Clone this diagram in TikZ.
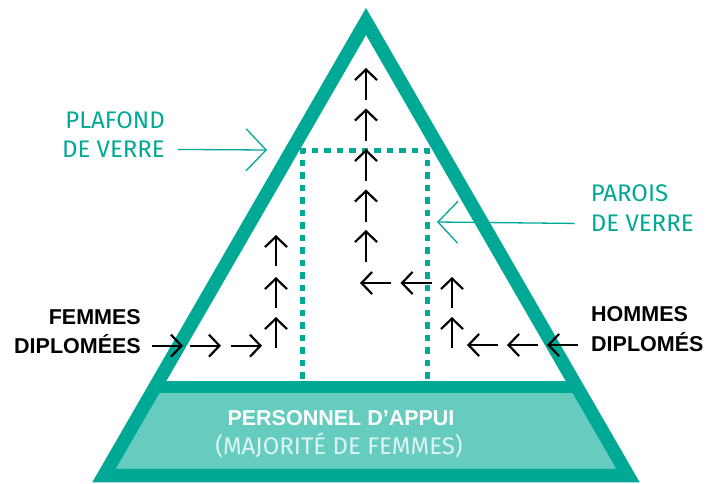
\documentclass[tikz,border=0pt]{standalone}
\usepackage{fontspec}
\setmainfont{Liberation Sans}
\newfontfamily\lightfont{Fira Sans}
\usetikzlibrary{positioning,arrows.meta}
\definecolor{verre}{RGB}{0,168,150}
\definecolor{appui}{RGB}{102,204,192}
\definecolor{pale}{RGB}{222,244,241}
\tikzset{
	pas/.style={line width=2.2pt, -{Straight Barb[length=10.5pt,width=22pt]}},
	renvoi/.style={verre, line width=1.3pt, -{Straight Barb[length=20pt,width=42pt]}},
	gras/.style={font=\fontsize{21.5}{25}\selectfont\bfseries, inner sep=0pt},
	fin/.style={font=\fontsize{24}{28}\lightfont, inner sep=0pt}
}

\begin{document}
\begin{tikzpicture}[x=1pt,y=-1pt]
	\useasboundingbox (0,0) rectangle (710,483);

	% pyramide
	\coordinate (g) at (104,475.5);
	\coordinate (d) at (628,475.5);
	\coordinate (s) at (366,21.5);
	\coordinate (bg) at (155,387);
	\coordinate (bd) at (577,387);
	\fill[appui] (g) -- (d) -- (bd) -- (bg) -- cycle;
	\draw[verre, line width=13.5pt, line join=miter] (g) -- (d) -- (s) -- cycle;
	\draw[verre, line width=12pt] (bg) -- (bd);

	% parois et plafond
	\draw[verre, line width=5pt, dash pattern=on 6.5pt off 6pt, dash phase=10.45pt]
		(302.7,381) -- (302.7,150.7) -- (427.7,150.7) -- (427.7,381);

	% parcours des femmes
	\foreach \x in {152,190,231} \draw[pas] (\x,345.7) -- ++(31,0);
	\foreach \y in {348,308,266} \draw[pas] (276,\y) -- ++(0,-31);

	% parcours des hommes
	\foreach \x in {578,538,498} \draw[pas] (\x,345) -- ++(-31,0);
	\foreach \y in {348,308} \draw[pas] (452,\y) -- ++(0,-31);
	\foreach \x in {431.5,391} \draw[pas] (\x,283) -- ++(-31,0);
	\foreach \y in {262,221.5,181,140.5,100} \draw[pas] (366,\y) -- ++(0,-32);

	% textes
	\node[gras, anchor=base east] (fem1) at (141,324.5) {FEMMES};
	\node[gras, anchor=base east] (fem2) at (141,353.3) {DIPLOMÉES};
	\node[gras, anchor=base west] (hom1) at (591,321.5) {HOMMES};
	\node[gras, anchor=base west] (hom2) at (591,351) {DIPLOMÉS};

	\node[fin, verre, anchor=base east] (plaf1) at (165,128) {PLAFOND};
	\node[fin, verre, anchor=base east] (plaf2) at (165,157.7) {DE VERRE};
	\node[fin, verre, anchor=base west] (par1) at (590.7,201.7) {PAROIS};
	\node[fin, verre, anchor=base west] (par2) at (590.7,231.7) {DE VERRE};

	\node[gras, white, anchor=base] (appui1) at (341,425) {PERSONNEL D’APPUI};
	\node[fin, pale, anchor=base] (appui2) at (339,454) {(MAJORITÉ DE FEMMES)};

	\coordinate (plaftip) at (267,150);
	\coordinate (partip) at (437,222);
	\draw[renvoi] (plaf2.east) ++(13,0) -- (plaftip);
	\draw[renvoi] (par2.west) ++(-16,0) -- (partip);
\end{tikzpicture}
\end{document}
